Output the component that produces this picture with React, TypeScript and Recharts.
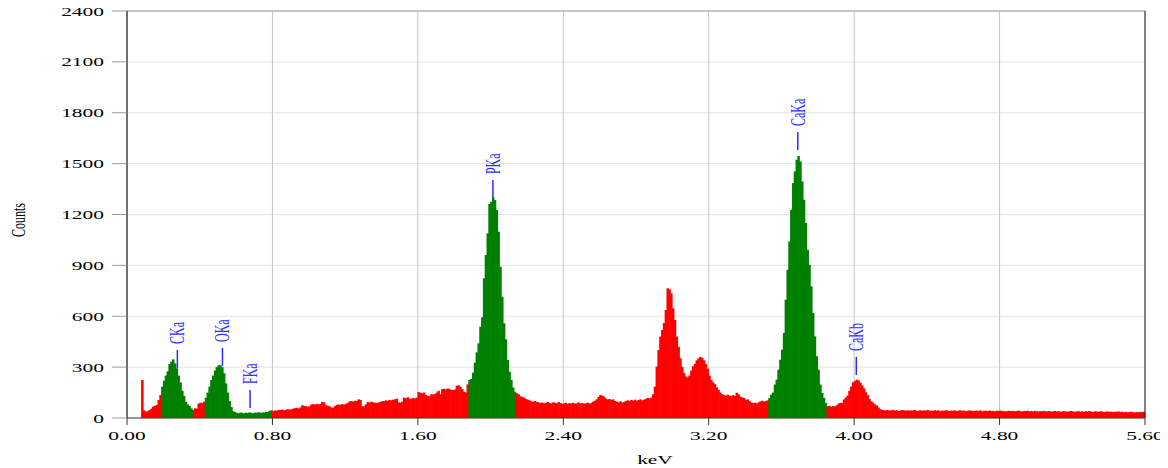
import React from 'react';
import { BarChart, Bar, XAxis, YAxis, CartesianGrid, ReferenceLine, Label } from 'recharts';

// spectrum counts, one value per 0.01 keV channel, split by region
const lowCounts = [
  0, 0, 0, 0, 0, 0, 0, 0,
  224, 45, 37, 40, 47, 55, 67, 72, 77, 106, 136,
  185, 220, 250, 275, 318, 332, 346, 322, 293, 250, 210, 160, 130, 96, 80, 70, 57, 47,
  57, 55, 85, 90, 88, 96,
  120, 150, 185, 224, 250, 280, 300, 312, 310, 300, 263, 204, 150, 100, 65, 40,
  35, 30, 28, 32, 30, 27, 31, 29, 33, 30, 28, 32, 31, 34, 30, 33, 32, 36, 35,
  42, 45,
];

const bgCounts = [
  40, 45, 42, 48, 47, 50, 44, 48, 52, 49, 51, 55, 58, 60, 56, 62,
  75, 72, 70, 66, 68, 80, 82, 78, 84, 80, 83, 94, 92, 75, 72, 68,
  62, 60, 70, 78, 80, 76, 82, 79, 84, 88, 98, 100, 96, 102, 100, 110,
  106, 70, 68, 80, 94, 90, 96, 92, 90, 88, 92, 95, 100, 98, 104, 100,
  106, 104, 108, 110, 114, 92, 90, 96, 120, 116, 122, 114, 112, 118, 115, 120,
  153, 149, 146, 150, 135, 130, 128, 140, 138, 142,
  150, 160, 140, 170, 172, 168, 174, 170, 166, 165, 168, 190, 193, 185, 170, 155, 150, 198,
];

const pCounts = [
  225, 230, 267, 326, 387, 440, 538, 594, 824, 961, 1089, 1262, 1275,
  1301, 1285, 1226, 1098, 892, 715, 558, 464, 342, 273, 224, 180, 155,
];

const midCounts = [
  146, 140, 128, 124, 120, 112, 108, 104, 98, 95, 100, 94, 92, 88, 92, 86, 90, 94, 88, 85, 92,
  90, 86, 94, 88, 84, 86, 90, 82, 88, 85, 90, 84, 86, 92, 85, 88, 84, 86, 90, 85, 88,
  96, 102, 110, 125, 136, 132, 126, 115, 108, 112, 106, 110, 100, 96, 92, 98, 90, 94,
  100, 104, 98, 106, 102, 108, 100, 106, 110, 104, 108, 112, 118, 115, 120, 140, 185,
  303, 401, 480, 519, 560, 637, 765, 759, 735, 647, 578, 480, 420, 352,
  302, 265, 245, 238, 250, 280, 305, 320, 340, 352, 360, 355, 340, 318, 290, 250,
  224, 210, 200, 180, 165, 150, 140, 136, 130, 138, 132, 128, 135, 130, 149, 140,
  126, 122, 118, 106, 110, 100, 92, 88, 90, 86, 92, 98, 102, 96, 100, 104,
];

const caCounts = [
  118, 138, 150, 197, 226, 285, 344, 403, 501, 698, 874, 1041, 1228, 1385, 1454, 1523,
  1545, 1513, 1395, 1287, 1150, 992, 904, 776, 619, 481, 364, 285, 197, 147, 118, 88,
];

const tailCounts = [
  69, 72, 66, 70, 68, 75, 85, 90, 88, 110, 120, 132, 160, 185, 210, 218,
  226, 222, 208, 192, 175, 152, 135, 112, 98, 90, 80, 74, 62, 52, 48,
  46, 44, 47, 42, 45, 48, 43, 46, 41, 44, 47, 45,
  43, 46, 42, 45, 44, 48, 41, 43, 46, 42, 45, 44,
  47, 42, 44, 41, 46, 43, 45, 40, 44, 42, 46, 43,
  41, 44, 42, 45, 40, 43, 46, 41, 44, 39, 42, 45,
  43, 40, 42, 44, 41, 45, 39, 42, 43, 40, 44, 41,
  42, 39, 43, 41, 44, 40, 42, 38, 41, 43, 40, 42,
  39, 41, 44, 40, 38, 42, 40, 43, 39, 41, 38, 42,
  40, 37, 41, 39, 42, 38, 40, 41, 37, 39, 42, 38,
  40, 36, 39, 41, 38, 37, 40, 42, 38, 36, 39, 40,
  37, 39, 36, 40, 38, 41, 37, 35, 39, 38, 36, 40,
  38, 35, 37, 39, 36, 38, 34, 37, 36, 39, 35, 37,
  34, 36, 33, 35, 37, 34, 32, 35, 33, 36, 34, 37,
];

// regions of interest (drawn green), keV
const roiStart = [0.19, 0.43, 1.88, 3.53];
const roiEnd = [0.37, 0.8, 2.14, 3.85];

// identified lines
const peakNames = ['CKa', 'OKa', 'FKa', 'PKa', 'CaKa', 'CaKb'];
const peakEnergy = [0.277, 0.525, 0.677, 2.013, 3.69, 4.012];
const markerBase = [295, 307, 59, 1297, 1580, 254];

const xTicks = [0, 0.8, 1.6, 2.4, 3.2, 4.0, 4.8, 5.6];
const yTicks = [0, 300, 600, 900, 1200, 1500, 1800, 2100, 2400];

const CHANNEL = 0.01;
const MARKER_LEN = 106;
const SERIF = '"Liberation Serif", "Times New Roman", serif';
const STRETCH = 1.65;

const allCounts = [...lowCounts, ...bgCounts, ...pCounts, ...midCounts, ...caCounts, ...tailCounts];

const data = allCounts.map((c, i) => {
  const kev = (i + 0.5) * CHANNEL;
  const inRoi = roiStart.some((s, k) => kev >= s && kev < roiEnd[k]);
  return { kev, counts: c, inRoi };
});

// channel bar: centred on the channel, a bit wider than the 1.8px pitch so neighbours join
const ChannelBar = (p: any) => {
  if (!p.height || p.height <= 0) return null;
  const cx = p.x + p.width / 2;
  return (
    <rect
      x={cx - 1.25}
      y={p.y}
      width={2.5}
      height={p.height}
      fill={p.payload.inRoi ? '#008000' : '#ff0000'}
    />
  );
};

const YTick = ({ x, y, payload }: any) => (
  <text
    transform={`translate(${x},${y}) scale(${STRETCH},1)`}
    textAnchor="end"
    dy={4.5}
    fontFamily={SERIF}
    fontSize={13}
    fill="#000"
  >
    {payload.value}
  </text>
);

const XTick = ({ x, y, payload }: any) => (
  <text
    transform={`translate(${x},${y}) scale(${STRETCH},1)`}
    textAnchor="middle"
    dy={11}
    fontFamily={SERIF}
    fontSize={13}
    fill="#000"
  >
    {Number(payload.value).toFixed(2)}
  </text>
);

const peakLabel = (name: string) => (props: any) => {
  const vb = props.viewBox || {};
  return (
    <text
      transform={`translate(${vb.x + 7},${vb.y - 6}) scale(1.7,1) rotate(-90)`}
      fontFamily={SERIF}
      fontSize={12}
      fill="#3030ff"
    >
      {name}
    </text>
  );
};

export default function App() {
  return (
    <BarChart
      width={1160}
      height={460}
      data={data}
      margin={{ top: 3, right: 23, left: 0, bottom: 0 }}
      barCategoryGap={0}
      barGap={0}
    >
      <CartesianGrid vertical={false} stroke="#e2e2e2" />
      <CartesianGrid horizontal={false} stroke="#c4c4c4" />
      <XAxis
        dataKey="kev"
        type="number"
        domain={[0, 5.6]}
        ticks={xTicks}
        interval={0}
        height={50}
        tickSize={7}
        tickMargin={4}
        tick={<XTick />}
        tickLine={{ stroke: '#333' }}
        axisLine={{ stroke: '#553333' }}
      >
        <Label
          content={() => (
            <text
              transform={`translate(647,456) scale(${STRETCH},1)`}
              textAnchor="middle"
              fontFamily={SERIF}
              fontSize={13}
              fill="#000"
            >
              keV
            </text>
          )}
        />
      </XAxis>
      <YAxis
        type="number"
        domain={[0, 2400]}
        ticks={yTicks}
        interval={0}
        width={119}
        tickSize={15}
        tickMargin={8}
        tick={<YTick />}
        tickLine={{ stroke: '#9a9a9a' }}
        axisLine={{ stroke: '#000' }}
      >
        <Label
          content={() => (
            <text
              transform={`translate(17,212) scale(${STRETCH},1) rotate(-90)`}
              textAnchor="middle"
              fontFamily={SERIF}
              fontSize={12}
              fill="#000"
            >
              Counts
            </text>
          )}
        />
      </YAxis>
      <ReferenceLine y={2400} stroke="#999" />
      <Bar dataKey="counts" isAnimationActive={false} barSize={2} shape={<ChannelBar />} />
      <ReferenceLine x={5.6} stroke="#222" />
      {peakNames.map((name, i) => (
        <ReferenceLine
          key={name}
          segment={[
            { x: peakEnergy[i], y: markerBase[i] },
            { x: peakEnergy[i], y: markerBase[i] + MARKER_LEN },
          ]}
          stroke="#2a2aff"
          strokeWidth={1.5}
          label={peakLabel(name)}
        />
      ))}
    </BarChart>
  );
}
